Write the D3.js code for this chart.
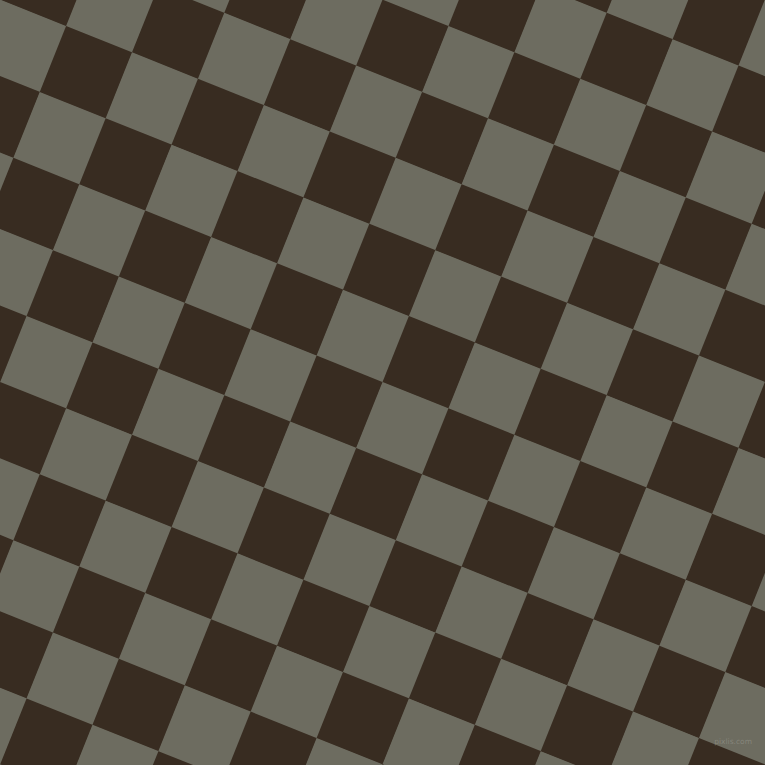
<!DOCTYPE html>
<html><head><meta charset="utf-8">
<script src="https://cdn.jsdelivr.net/npm/d3@7"></script>
<style>html,body{margin:0;padding:0;background:#fff;}svg{display:block;}</style>
</head><body>
<script>
const cols = [-2,-1,0,1,2,3,4,5,6,7,8,9,10,11,12,13];
const rows = [-5,-4,-3,-2,-1,0,1,2,3,4,5,6,7,8,9,10];
const colors = ["#382c21", "#6d6c60"];
const W = 765, H = 765;
const side = 71, angle = 21.8, ox = 66.1, oy = 26.0;

const svg = d3.select("body").append("svg").attr("width", W).attr("height", H);
svg.append("rect").attr("width", W).attr("height", H).attr("fill", colors[1]);
const x = d3.scaleLinear().domain([0, 1]).range([0, side]);
const y = d3.scaleLinear().domain([0, 1]).range([0, side]);
const g = svg.append("g").attr("transform", `translate(${ox},${oy}) rotate(${angle})`);
const cells = [];
rows.forEach(r => cols.forEach(c => cells.push({r, c})));
g.selectAll("rect.cell").data(cells).join("rect")
  .attr("class", "cell")
  .attr("x", d => x(d.c)).attr("y", d => y(d.r))
  .attr("width", x(1) - x(0) + 0.5).attr("height", y(1) - y(0) + 0.5)
  .attr("fill", d => colors[((d.r + d.c) % 2 + 2) % 2]);
svg.append("text").attr("x", 752).attr("y", 744).attr("text-anchor", "end")
  .attr("font-family", "DejaVu Sans").attr("font-size", 7.5).attr("fill", "#9a9a90")
  .attr("opacity", 0.55).text("pixlis.com");
</script>
</body></html>
